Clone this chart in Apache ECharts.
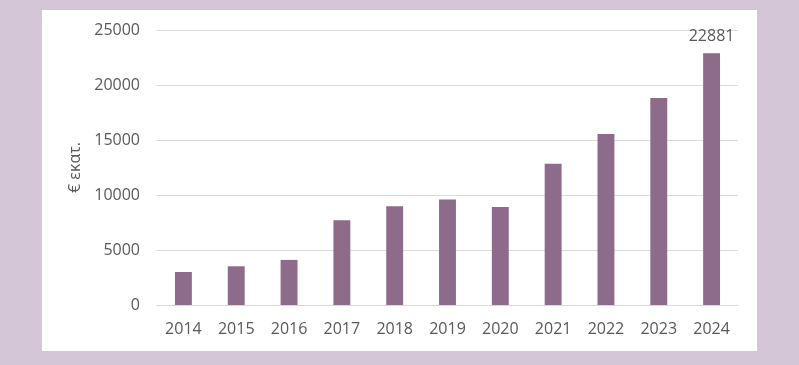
<!DOCTYPE html>
<html><head><meta charset="utf-8">
<script src="https://cdn.jsdelivr.net/npm/echarts@6/dist/echarts.min.js"></script>
<style>html,body{margin:0;padding:0;background:#d4c6d6;}#c{width:799px;height:365px;}</style>
</head><body><div id="c"></div>
<script>
const categories = ['2014','2015','2016','2017','2018','2019','2020','2021','2022','2023','2024'];
const values = [3000, 3520, 4100, 7700, 8970, 9580, 8910, 12850, 15550, 18820, 22881];
const yTicks = {min: 0, max: 25000, interval: 5000};
const yName = '€ εκατ.';
const labelled = [10];

const chart = echarts.init(document.getElementById('c'), null, {renderer: 'canvas'});
const textColor = '#595959';
chart.setOption({
  backgroundColor: '#d4c6d6',
  animation: false,
  textStyle: {fontFamily: 'Open Sans'},
  graphic: [{type: 'rect', z: -10, shape: {x: 42, y: 10, width: 715, height: 341}, style: {fill: '#ffffff'}}],
  grid: {left: 157, right: 61, top: 30, bottom: 60},
  xAxis: {
    type: 'category', data: categories,
    axisLine: {lineStyle: {color: '#d9d9d9', width: 1}},
    axisTick: {show: false},
    axisLabel: {color: textColor, fontSize: 16, margin: 16, fontFamily: 'Open Sans'}
  },
  yAxis: {
    type: 'value', min: yTicks.min, max: yTicks.max, interval: yTicks.interval,
    name: yName, nameLocation: 'middle', nameRotate: 90, nameGap: 63,
    nameTextStyle: {color: textColor, fontSize: 16, fontFamily: 'Open Sans'},
    axisLine: {show: false}, axisTick: {show: false},
    splitLine: {lineStyle: {color: '#d9d9d9', width: 1}},
    axisLabel: {color: textColor, fontSize: 16, margin: 17, fontFamily: 'Open Sans', formatter: v => String(v)}
  },
  series: [{
    type: 'bar', data: values.map((v, i) => labelled.includes(i) ? {value: v, label: {show: true}} : v),
    barWidth: '32%',
    itemStyle: {color: '#8d6b8b'},
    label: {show: false, position: 'top', distance: 9, color: textColor, fontSize: 16, fontFamily: 'Open Sans'}
  }]
});
</script></body></html>
